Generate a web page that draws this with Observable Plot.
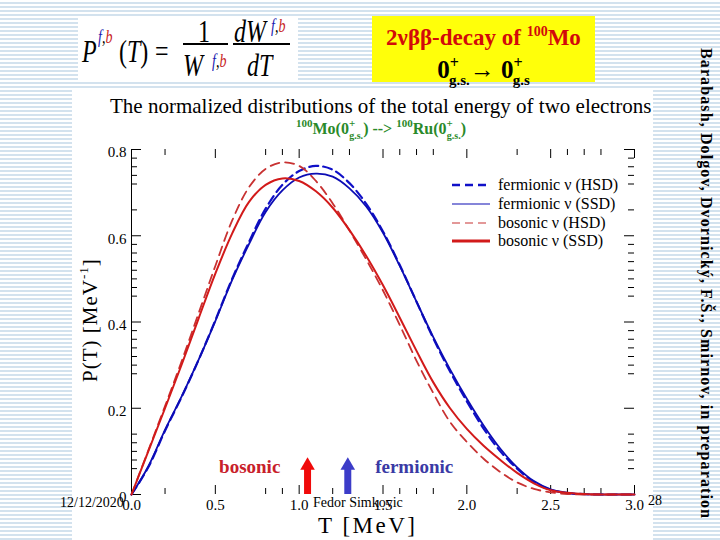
<!DOCTYPE html>
<html><head><meta charset="utf-8">
<script src="https://cdn.jsdelivr.net/npm/d3@7"></script>
<script src="https://cdn.jsdelivr.net/npm/@observablehq/plot@0.6"></script>
<style>
html,body{margin:0;padding:0;}
body{width:720px;height:540px;position:relative;overflow:hidden;
 background:repeating-linear-gradient(to bottom,#ffffff 0px,#ffffff 2px,#d3e2ee 2px,#d3e2ee 4px);
 font-family:"Liberation Serif",serif;color:#000;}
.abs{position:absolute;white-space:nowrap;line-height:1;}
#panel{left:72px;top:90px;width:581px;height:450px;background:#fff;}
#formula{left:78px;top:18px;width:220px;height:64px;background:#fff;}
#yellow{left:372px;top:16px;width:223px;height:66px;background:#ffff0a;}
.fm{position:absolute;font-family:"Liberation Serif",serif;font-style:italic;font-size:24px;line-height:1;transform:scaleY(1.3);transform-origin:0 50%;white-space:nowrap;}
.bar{position:absolute;background:#000;height:1.5px;}
.fb{color:#1a1ab0}.rb{color:#c81e1e}
#chart{position:absolute;left:0;top:0;}
sup,sub{line-height:0;}
</style>
</head><body>
<div id="panel" class="abs"></div>
<div id="formula" class="abs"></div>
<div id="yellow" class="abs"></div>

<!-- formula pieces -->
<div class="fm" style="left:82px;top:40px;">P</div>
<div class="fm" style="left:98px;top:31px;font-size:14px;"><span class="fb">f</span>,<span class="rb">b</span></div>
<div class="fm" style="left:119px;top:40px;font-style:normal;">(<i>T</i>)</div>
<div class="fm" style="left:155px;top:40px;font-style:normal;">=</div>
<div class="fm" style="left:198px;top:20px;font-style:normal;">1</div>
<div class="bar" style="left:183px;top:43px;width:45px;"></div>
<div class="fm" style="left:183px;top:54px;">W</div>
<div class="fm" style="left:212px;top:55px;font-size:14px;"><span class="fb">f</span>,<span class="rb">b</span></div>
<div class="fm" style="left:234px;top:20px;">dW</div>
<div class="fm" style="left:271px;top:20px;font-size:14px;"><span class="fb">f</span>,<span class="rb">b</span></div>
<div class="bar" style="left:233px;top:43px;width:57px;"></div>
<div class="fm" style="left:247px;top:54px;">dT</div>

<!-- yellow title box -->
<div class="abs" style="left:372px;top:26px;width:223px;text-align:center;font-weight:bold;font-size:23px;color:#d20a0a;">2νββ-decay of <sup style="font-size:14px;vertical-align:9px;">100</sup>Mo</div>
<div class="abs" style="left:372px;top:57px;width:223px;text-align:center;font-weight:bold;font-size:25px;color:#000;">0<sup style="font-size:16px;vertical-align:10px;">+</sup><sub style="font-size:15px;vertical-align:-7px;margin-left:-10px;">g.s.</sub>→ 0<sup style="font-size:16px;vertical-align:10px;">+</sup><sub style="font-size:15px;vertical-align:-7px;margin-left:-10px;">g.s</sub></div>

<!-- chart title & subtitle -->
<div class="abs" style="left:110px;top:96px;font-size:21px;">The normalized distributions of the total energy of two electrons</div>
<div class="abs" style="left:296px;top:121px;font-size:16px;font-weight:bold;color:#2a8a2a;"><sup style="font-size:11px;vertical-align:7px;">100</sup>Mo(0<sup style="font-size:11px;vertical-align:7px;">+</sup><sub style="font-size:10px;vertical-align:-5px;margin-left:-6px;">g.s.</sub>) --&gt; <sup style="font-size:11px;vertical-align:7px;">100</sup>Ru(0<sup style="font-size:11px;vertical-align:7px;">+</sup><sub style="font-size:10px;vertical-align:-5px;margin-left:-6px;">g.s.</sub>)</div>

<div id="chart"></div>

<!-- legend -->
<div id="legend" class="abs" style="left:452px;top:176px;"></div>

<!-- axis titles -->
<div class="abs" style="left:90px;top:320px;font-size:21px;transform:translate(-50%,-50%) rotate(-90deg);transform-origin:50% 50%;letter-spacing:1px;">P(T) [MeV<sup style="font-size:13px;vertical-align:9px;">-1</sup>]</div>
<div class="abs" style="left:318px;top:514px;font-size:23px;letter-spacing:2.5px;">T [MeV]</div>

<!-- footer texts -->
<div class="abs" style="left:60px;top:496px;font-size:14px;">12/12/2020</div>
<div class="abs" style="left:313px;top:496px;font-size:14px;">Fedor Simkovic</div>
<div class="abs" style="left:648px;top:494px;font-size:14px;">28</div>
<svg class="abs" style="left:690px;top:0px;" width="30" height="540"><text transform="translate(11,48) rotate(90)" font-family="Liberation Serif, serif" font-weight="bold" font-size="16" textLength="470" lengthAdjust="spacing">Barabash, Dolgov, Dvornický, F.Š., Smirnov, in preparation</text></svg>

<script>
// ---------- data ----------
const T = [0,0.1,0.2,0.3,0.4,0.5,0.6,0.7,0.8,0.9,1.0,1.1,1.2,1.3,1.4,1.5,1.6,1.7,1.8,1.9,2.0,2.1,2.2,2.3,2.4,2.5,2.6,2.7,2.8,2.9,3.0];
const fermionicHSD = [0,0.063,0.148,0.227,0.312,0.404,0.500,0.585,0.663,0.718,0.750,0.762,0.753,0.722,0.674,0.610,0.532,0.447,0.362,0.285,0.216,0.153,0.100,0.060,0.029,0.011,0.003,0.001,0,0,0];
const fermionicSSD = [0,0.065,0.150,0.228,0.312,0.402,0.497,0.580,0.655,0.705,0.735,0.744,0.737,0.710,0.668,0.607,0.530,0.447,0.365,0.290,0.222,0.160,0.106,0.063,0.031,0.012,0.004,0.001,0,0,0];
const bosonicHSD = [0,0.102,0.205,0.310,0.420,0.530,0.635,0.712,0.755,0.770,0.762,0.727,0.675,0.612,0.545,0.473,0.393,0.310,0.235,0.168,0.122,0.083,0.052,0.028,0.013,0.005,0.001,0,0,0,0];
const bosonicSSD = [0,0.100,0.200,0.302,0.408,0.512,0.605,0.678,0.718,0.733,0.727,0.703,0.665,0.613,0.553,0.485,0.410,0.333,0.260,0.200,0.152,0.113,0.080,0.050,0.026,0.010,0.004,0.001,0,0,0];

const seriesNames = ["fermionic ν (HSD)","fermionic ν (SSD)","bosonic ν (HSD)","bosonic ν (SSD)"];
const seriesValues = [fermionicHSD, fermionicSSD, bosonicHSD, bosonicSSD];
const seriesColors = ["#1010c8","#0c0cb4","#c83232","#d21a1a"];
const seriesDash = ["9,5", null, "9,6", null];
const seriesWidth = [2.2, 1.8, 1.8, 2.0];
const legendWidth = [2.6, 1.1, 1.2, 2.8];

const xMajor = [0,0.5,1.0,1.5,2.0,2.5,3.0];
const xLabels = ["0.0","0.5","1.0","1.5","2.0","2.5","3.0"];
const xMinor = [0.2,0.8,0.9,1.2,1.3,1.6,1.7,1.8,2.3,2.6,2.7,2.8];
const yMajor = [0,0.2,0.4,0.6,0.8];
const yLabels = ["0","0.2","0.4","0.6","0.8"];
const yMinor = [0.78,0.76,0.74,0.72,0.66,0.58,0.56,0.54,0.52,0.50,0.48,0.46,0.38,0.36,0.34,0.32,0.30,0.28,0.14,0.12,0.10,0.08,0.06];

const arrowT = [1.05, 1.29];
const arrowColors = ["#f00a0a","#3c3cc8"];
const arrowShaftTop = 0.062;
const arrowHeadP = 0.067;
const annotLabels = ["bosonic","fermionic"];
const annotT = [0.705, 1.686];
const annotP = [0.065, 0.065];
const annotColors = ["#c8202a","#3a3aa5"];

// ---------- build ----------
const rows = seriesNames.flatMap((s, k) => T.map((t, i) => ({T: t, P: seriesValues[k][i], k})));
const arrows = arrowT.map((t, i) => ({T: t, color: arrowColors[i]}));
const annots = annotLabels.map((l, i) => ({label: l, T: annotT[i], P: annotP[i], color: annotColors[i]}));

const W = 720, H = 540, mL = 131, mR = 86, mT = 149, mB = 46;
const innerH = H - mT - mB, innerW = W - mL - mR;

const marks = [
  Plot.ruleX([0], {stroke: "black", strokeWidth: 1}),
  Plot.tickX(xMajor, {x: d => d, insetTop: innerH - 9, stroke: "black"}),
  Plot.tickX(xMajor, {x: d => d, insetBottom: innerH - 9, stroke: "black"}),
  Plot.tickX(xMinor, {x: d => d, insetTop: innerH - 6, stroke: "black"}),
  Plot.tickX(xMinor, {x: d => d, insetBottom: innerH - 6, stroke: "black"}),
  Plot.tickY(yMajor, {y: d => d, insetRight: innerW - 10, stroke: "black"}),
  Plot.tickY(yMajor, {y: d => d, insetLeft: innerW - 10, stroke: "black"}),
  Plot.tickY(yMinor, {y: d => d, insetRight: innerW - 6, stroke: "black"}),
  Plot.tickY(yMinor, {y: d => d, insetLeft: innerW - 6, stroke: "black"}),
  Plot.text(xMajor, {x: d => d, frameAnchor: "bottom", dy: 15, text: (d, i) => xLabels[i], fontSize: 15}),
  Plot.text(yMajor, {y: d => d, frameAnchor: "left", dx: -5, dy: 3, textAnchor: "end", text: (d, i) => yLabels[i], fontSize: 15}),
];
seriesNames.forEach((s, k) => {
  marks.push(Plot.line(rows.filter(r => r.k === k), {
    x: "T", y: "P", stroke: seriesColors[k], strokeWidth: seriesWidth[k],
    strokeDasharray: seriesDash[k] || undefined, curve: "catmull-rom"
  }));
});
marks.push(
  Plot.ruleX(arrows, {x: "T", y1: 0, y2: arrowShaftTop, stroke: "color", strokeWidth: 7}),
  Plot.dot(arrows, {x: "T", y: () => arrowHeadP, symbol: "triangle", r: 5.4, fill: "color", stroke: "none"}),
  Plot.text(annots, {x: "T", y: "P", text: "label", fill: "color", fontWeight: "bold", fontSize: 19})
);

const chart = Plot.plot({
  width: W, height: H,
  marginLeft: mL, marginRight: mR, marginTop: mT, marginBottom: mB,
  style: {background: "transparent", fontFamily: "'Liberation Serif', serif", color: "black", overflow: "visible"},
  x: {domain: [0, 3], axis: null},
  y: {domain: [0, 0.8], axis: null},
  color: {type: "identity"},
  marks
});
document.getElementById("chart").appendChild(chart);

// legend
const lg = document.getElementById("legend");
seriesNames.forEach((s, k) => {
  const row = document.createElement("div");
  row.style.cssText = "display:flex;align-items:center;height:18.7px;font-size:16px;white-space:nowrap;";
  row.innerHTML = `<svg width="46" height="10" style="margin-right:0px"><line x1="0" x2="38" y1="5" y2="5" stroke="${seriesColors[k]}" stroke-width="${legendWidth[k]}" ${seriesDash[k] ? `stroke-dasharray="8,5"` : ""}/></svg><span>${s}</span>`;
  lg.appendChild(row);
});
</script>
</body></html>
